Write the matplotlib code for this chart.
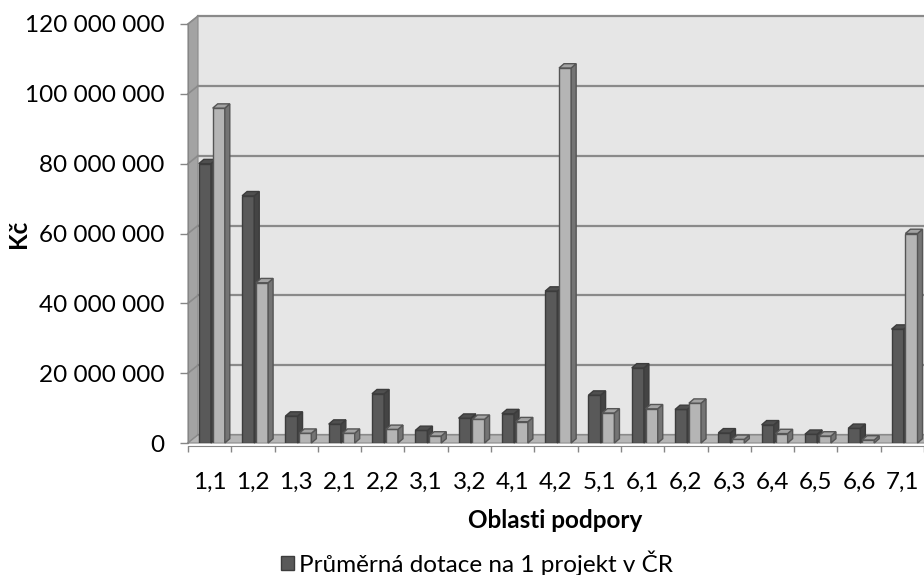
"""prumerna dotace na projekt - oblasti podpory"""
import matplotlib
matplotlib.use("Agg")
import matplotlib.pyplot as plt
from matplotlib.patches import Polygon
from matplotlib.ticker import FuncFormatter

oblasti = ["1,1", "1,2", "1,3", "2,1", "2,2", "3,1", "3,2", "4,1", "4,2",
           "5,1", "6,1", "6,2", "6,3", "6,4", "6,5", "6,6", "7,1"]
# Kc
dotace_cr = [80_000_000, 70_800_000, 7_700_000, 5_400_000, 14_100_000,
             3_600_000, 7_100_000, 8_400_000, 43_500_000, 13_700_000,
             21_500_000, 9_600_000, 2_900_000, 5_200_000, 2_500_000,
             4_200_000, 32_600_000]
dotace_2 = [95_900_000, 45_900_000, 2_800_000, 2_800_000, 3_900_000,
            2_000_000, 6_800_000, 6_100_000, 107_400_000, 8_600_000,
            9_800_000, 11_400_000, 1_050_000, 2_700_000, 2_000_000,
            860_000, 60_000_000]
y_ticks = [0, 20_000_000, 40_000_000, 60_000_000, 80_000_000, 100_000_000, 120_000_000]
legend_label = "Průměrná dotace na 1 projekt v ČR"

FS = 17.5
plt.rcParams['font.family'] = ['Lato', 'DejaVu Sans']
W, H = 924, 575
fig = plt.figure(figsize=(W / 100, H / 100), dpi=100)
ax = fig.add_axes([188 / W, (H - 443) / H, 736 / W, 419 / H])
n = len(oblasti)
ax.set_xlim(-0.5, n - 0.5)
ax.set_ylim(0, 120_000_000)
ax.patch.set_visible(False)

#pixel -> data
px_x = n / 736.0
px_y = 120_000_000 / 419.0
DX, DY = 10 * px_x, 8 * px_y      # hloubka steny
BDX, BDY = 5 * px_x, 4.3 * px_y   # hloubka sloupce
x0, x1 = -0.5, n - 0.5
ytop = y_ticks[-1]

#back wall, side wall, floor
ax.add_patch(Polygon([(x0 + DX, DY), (x1 + DX, DY), (x1 + DX, ytop + DY), (x0 + DX, ytop + DY)],
                     closed=True, fc="#e6e6e6", ec="none", zorder=0.5, clip_on=False))
ax.add_patch(Polygon([(x0, 0), (x0 + DX, DY), (x0 + DX, ytop + DY), (x0, ytop)],
                     closed=True, fc="#a3a3a3", ec="#8a8a8a", lw=0.8, zorder=0.6, clip_on=False))
ax.add_patch(Polygon([(x0, 0), (x1, 0), (x1 + DX, DY), (x0 + DX, DY)],
                     closed=True, fc="#b6b6b6", ec="#8a8a8a", lw=0.8, zorder=1.5, clip_on=False))
for v in y_ticks:
    ax.plot([x0 + DX, x1 + DX], [v + DY, v + DY], color="#8a8a8a", lw=1.6, zorder=1, clip_on=False)
    ax.plot([x0, x0 + DX], [v, v + DY], color="#8a8a8a", lw=1.2, zorder=1, clip_on=False)

pos = list(range(n))
w = 0.28

def bars3d(left, vals, front, side, top, edge, z):
    cont = ax.bar(left, vals, width=w, align='edge', color=front, edgecolor=edge,
                  linewidth=1.0, zorder=z)
    for rect in cont:
        a = rect.get_x()
        b = a + rect.get_width()
        h = rect.get_height()
        ax.add_patch(Polygon([(b, 0), (b + BDX, BDY), (b + BDX, h + BDY), (b, h)],
                             closed=True, fc=side, ec=edge, lw=1.0, zorder=z, clip_on=False))
        ax.add_patch(Polygon([(a, h), (a + BDX, h + BDY), (b + BDX, h + BDY), (b, h)],
                             closed=True, fc=top, ec=edge, lw=1.0, zorder=z, clip_on=False))
    return cont

dark = bars3d([p - 0.25 for p in pos], dotace_cr, "#595959", "#444444", "#4f4f4f", "#3c3c3c", 3)
light = bars3d([p + 0.07 for p in pos], dotace_2, "#b5b5b5", "#747474", "#a3a3a3", "#555555", 4)

#axes
for s in ("top", "right"):
    ax.spines[s].set_visible(False)
ax.spines["left"].set_color("#868686")
ax.spines["bottom"].set_color("#868686")
ax.spines["bottom"].set_position(("outward", 2))

ax.set_yticks(y_ticks)
ax.yaxis.set_major_formatter(FuncFormatter(lambda v, p: f"{int(v):,}".replace(",", " ")))
ax.tick_params(axis="y", length=5.8, width=1, color="#868686", pad=11, labelsize=FS)

ax.set_xticks(pos)
ax.set_xticklabels(oblasti)
ax.set_xticks([p - 0.5 for p in pos] + [n - 0.5], minor=True)
ax.tick_params(axis="x", which="major", length=0, pad=19, labelsize=FS)
ax.tick_params(axis="x", which="minor", length=4.5, width=1, color="#868686")

fig.text(19 / W, 1 - 234 / H, "Kč", rotation=90, fontsize=FS, fontweight="bold",
         ha="center", va="center")
fig.text(555 / W, 1 - 520 / H, "Oblasti podpory", fontsize=FS, fontweight="bold",
         ha="center", va="center")

fig.legend([dark], [legend_label], loc="center left", bbox_to_anchor=(281 / W, 1 - 563 / H),
           frameon=False, borderpad=0, borderaxespad=0, handlelength=0.55, handleheight=0.55,
           handletextpad=0.2, fontsize=FS)

fig.savefig("out.png", dpi=100)
